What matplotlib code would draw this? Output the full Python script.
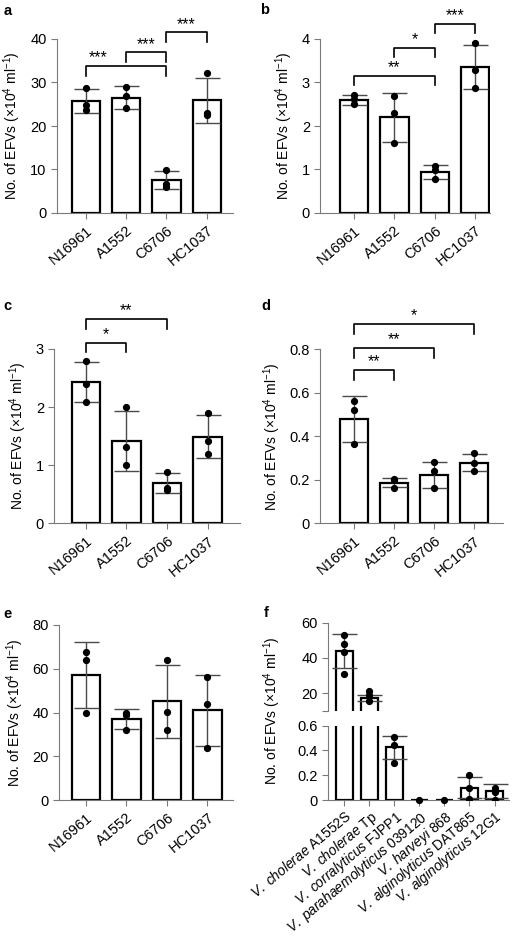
import matplotlib
matplotlib.use("Agg")
import matplotlib.pyplot as plt
import numpy as np

plt.rcParams['font.family'] = ['Liberation Sans', 'DejaVu Sans']
plt.rcParams['mathtext.fontset'] = 'custom'
plt.rcParams['mathtext.rm'] = 'Liberation Sans'
plt.rcParams['mathtext.it'] = 'Liberation Sans:italic'
plt.rcParams['mathtext.bf'] = 'Liberation Sans:bold'

strains = ["N16961", "A1552", "C6706", "HC1037"]

# panel a
a_means = [25.7, 26.5, 7.6, 25.9]
a_sds = [2.8, 2.6, 2.0, 5.2]
a_points = [[28.8, 24.9, 23.6], [29.0, 27.0, 24.2], [9.9, 6.7, 5.9], [32.1, 23.0, 22.6]]
# (from, to, bracket height, label, label x or None for centre)
a_sig = [(0, 2, 33.7, "***", 0.3), (1, 2, 36.9, "***", None), (2, 3, 41.5, "***", None)]

# panel b
b_means = [2.6, 2.2, 0.95, 3.35]
b_sds = [0.12, 0.57, 0.16, 0.51]
b_points = [[2.72, 2.62, 2.5], [2.7, 2.29, 1.6], [1.09, 0.99, 0.79], [3.9, 3.29, 2.88]]
b_sig = [(0, 2, 3.15, "**", None), (1, 2, 3.79, "*", None), (2, 3, 4.34, "***", None)]

# panel c
c_means = [2.43, 1.42, 0.69, 1.49]
c_sds = [0.35, 0.52, 0.17, 0.37]
c_points = [[2.8, 2.4, 2.09], [2.0, 1.31, 1.0], [0.89, 0.6, 0.58], [1.9, 1.41, 1.19]]
c_sig = [(0, 1, 3.11, "*", None), (0, 2, 3.51, "**", None)]

# panel d
d_means = [0.48, 0.187, 0.224, 0.279]
d_sds = [0.107, 0.022, 0.06, 0.04]
d_points = [[0.564, 0.523, 0.363], [0.202, 0.161, 0.2], [0.283, 0.24, 0.161], [0.322, 0.279, 0.24]]
d_sig = [(0, 1, 0.705, "**", None), (0, 2, 0.805, "**", None), (0, 3, 0.915, "*", None)]

# panel e
e_means = [57.1, 37.0, 45.1, 41.0]
e_sds = [15.2, 4.6, 16.7, 16.2]
e_points = [[67.8, 64.0, 39.9], [40.0, 32.0, 39.0], [63.8, 40.1, 32.0], [56.1, 44.0, 23.9]]

# panel f
f_names = [r"$\it{V.\ cholerae}$ A1552S", r"$\it{V.\ cholerae}$ Tp",
           r"$\it{V.\ corralyticus}$ FJPP1", r"$\it{V.\ parahaemolyticus}$ 039120",
           r"$\it{V.\ harveyi}$ 868", r"$\it{V.\ alginolyticus}$ DAT865",
           r"$\it{V.\ alginolyticus}$ 12G1"]
f_means = [44.0, 17.2, 0.425, 0.0, 0.0, 0.1, 0.073]
f_sds = [9.5, 1.8, 0.095, 0.0, 0.0, 0.085, 0.053]
f_points = [[53.2, 48.0, 43.5, 30.9], [21.0, 18.7, 15.5], [0.506, 0.444, 0.30],
            [0.0], [0.0], [0.2, 0.1, 0.008], [0.10, 0.067, 0.0]]

ylab = r"No. of EFVs (×10$^{4}$ ml$^{-1}$)"
W, H = 514, 938
GREY = "#7a7a7a"
ROT = 40


def axes_px(fig, x0, x1, ytop, ybot):
    return fig.add_axes([x0 / W, 1 - ybot / H, (x1 - x0) / W, (ybot - ytop) / H])


def style(ax):
    for s in ["top", "right"]:
        ax.spines[s].set_visible(False)
    for s in ["left", "bottom"]:
        ax.spines[s].set_color(GREY)
        ax.spines[s].set_linewidth(0.8)
    ax.tick_params(colors=GREY, labelcolor="black", labelsize=10.5, length=4, width=0.8)


def draw_bars(ax, means, sds, points, width=0.7):
    x = np.arange(len(means))
    ax.bar(x, means, width=width, color="white", edgecolor="black", linewidth=1.6, zorder=2)
    has = [i for i in x if sds[i] > 0]
    ax.errorbar(x[has], np.array(means)[has], yerr=np.array(sds)[has], fmt="none",
                ecolor="#4a4a4a", elinewidth=1.0, capsize=9, capthick=1.0, zorder=3)
    for i, pts in enumerate(points):
        ax.plot([i] * len(pts), pts, "o", color="black", markersize=4.2, zorder=4, clip_on=False)


def brackets(ax, sig, drop, pad):
    for i, j, y, lab, tx in sig:
        ax.plot([i, i, j, j], [y - drop, y, y, y - drop], color="black", lw=1.2, clip_on=False)
        if tx is None:
            tx = (i + j) / 2
        ax.annotate(lab, (tx, y), xytext=(0, pad), textcoords="offset points",
                    ha="center", va="center", fontsize=11.5, annotation_clip=False)


def bar_panel(ax, means, sds, points, ymax, yticks, ticklabels, xlim):
    style(ax)
    draw_bars(ax, means, sds, points)
    ax.set_ylim(0, ymax)
    ax.set_yticks(yticks)
    ax.set_yticklabels(ticklabels)
    ax.set_xlim(*xlim)
    ax.set_xticks(range(len(strains)))
    ax.set_xticklabels(strains, rotation=ROT, ha="right", rotation_mode="anchor")
    ax.set_ylabel(ylab, fontsize=10, labelpad=5)


fig = plt.figure(figsize=(W / 100, H / 100), dpi=100)

ax_a = axes_px(fig, 57, 233.3, 39, 213)
bar_panel(ax_a, a_means, a_sds, a_points, 40, [0, 10, 20, 30, 40],
          ["0", "10", "20", "30", "40"], (-0.72, 3.66))
brackets(ax_a, a_sig, 2.2, 6)

ax_b = axes_px(fig, 320.3, 490.3, 39, 213)
bar_panel(ax_b, b_means, b_sds, b_points, 4, [0, 1, 2, 3, 4],
          ["0", "1", "2", "3", "4"], (-0.83, 3.37))
brackets(ax_b, b_sig, 0.2, 6)

ax_c = axes_px(fig, 54.3, 240, 349, 523.3)
bar_panel(ax_c, c_means, c_sds, c_points, 3, [0, 1, 2, 3],
          ["0", "1", "2", "3"], (-0.78, 3.8))
brackets(ax_c, c_sig, 0.17, 6)

ax_d = axes_px(fig, 320.3, 503, 349.3, 523.3)
bar_panel(ax_d, d_means, d_sds, d_points, 0.8, [0, 0.2, 0.4, 0.6, 0.8],
          ["0", "0.2", "0.4", "0.6", "0.8"], (-0.85, 3.72))
brackets(ax_d, d_sig, 0.045, 6)

ax_e = axes_px(fig, 59.3, 233.3, 625, 800)
bar_panel(ax_e, e_means, e_sds, e_points, 80, [0, 20, 40, 60, 80],
          ["0", "20", "40", "60", "80"], (-0.66, 3.64))

# panel f: broken axis
ax_f1 = axes_px(fig, 328, 509.3, 622.7, 710.7)
ax_f2 = axes_px(fig, 328, 509.3, 725.7, 800)
for ax in (ax_f1, ax_f2):
    style(ax)
    draw_bars(ax, f_means, f_sds, f_points)
    ax.set_xlim(-0.65, 6.59)
    for ln in ax.lines:
        ln.set_clip_on(True)
ax_f1.set_ylim(10, 60)
ax_f1.set_yticks([10, 20, 40, 60])
ax_f1.set_yticklabels(["", "20", "40", "60"])
ax_f1.spines["bottom"].set_visible(False)
ax_f1.set_xticks([])
ax_f2.set_ylim(0, 0.6)
ax_f2.set_yticks([0, 0.2, 0.4, 0.6])
ax_f2.set_yticklabels(["0", "0.2", "0.4", "0.6"])
ax_f2.set_xticks(range(len(f_names)))
ax_f2.set_xticklabels(f_names, rotation=ROT, ha="right", rotation_mode="anchor", fontsize=9.9)
ax_f2.tick_params(axis="x", pad=2)
ax_f2.lines[-4].set_clip_on(False)
ax_f2.lines[-3].set_clip_on(False)
fig.text(272 / W, 1 - 711 / H, ylab, rotation=90, ha="center", va="center", fontsize=10)

for lab, x, y in [("a", 4, 11), ("b", 260, 10), ("c", 3, 306), ("d", 261, 306),
                  ("e", 3, 614), ("f", 264, 613)]:
    fig.text(x / W, 1 - y / H, lab, fontsize=10.5, fontweight="bold", ha="left", va="center")

fig.savefig("out.png", dpi=100)
